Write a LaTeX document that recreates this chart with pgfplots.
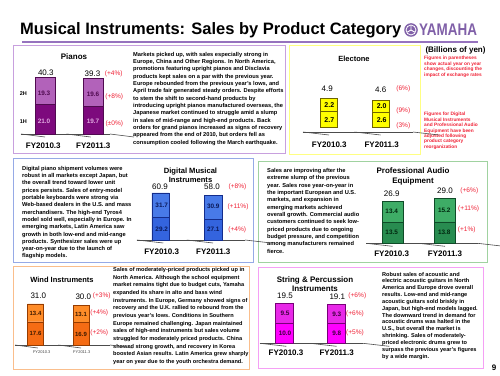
\documentclass[border=0pt]{standalone}
\usepackage{pgfplots}
\pgfplotsset{compat=1.18}
\usepackage{graphicx}
\usepackage{fontspec}
\setmainfont{Liberation Sans}
\definecolor{redc}{RGB}{240,35,55}
\definecolor{yam}{RGB}{128,96,168}
\definecolor{tline}{RGB}{150,115,190}
\definecolor{bPiano}{RGB}{200,160,222}
\definecolor{bElec}{RGB}{255,255,130}
\definecolor{bDig}{RGB}{150,170,230}
\definecolor{bPro}{RGB}{160,210,160}
\definecolor{bWind}{RGB}{250,190,140}
\definecolor{bStr}{RGB}{245,160,245}
\definecolor{pianoL}{RGB}{178,98,186}
\definecolor{pianoD}{RGB}{125,10,125}
\definecolor{pianoB}{RGB}{80,10,80}
\definecolor{elecF}{RGB}{255,255,0}
\definecolor{elecB}{RGB}{110,100,0}
\definecolor{digU}{RGB}{72,122,232}
\definecolor{digL}{RGB}{52,100,222}
\definecolor{digB}{RGB}{20,45,140}
\definecolor{proU}{RGB}{62,172,102}
\definecolor{proL}{RGB}{40,140,80}
\definecolor{proB}{RGB}{15,75,40}
\definecolor{windU}{RGB}{255,140,40}
\definecolor{windL}{RGB}{245,108,20}
\definecolor{windB}{RGB}{150,60,0}
\definecolor{strU}{RGB}{232,40,232}
\definecolor{strL}{RGB}{255,0,255}
\definecolor{strB}{RGB}{120,0,120}
\pgfplotsset{mini/.style={scale only axis, hide axis, ybar stacked, ymin=0, xmin=-0.5, xmax=1.5, clip=false, anchor=south west, enlargelimits=false}}
\tikzset{
 base/.style={draw=black!70, line width=0.6pt},
 para/.style={anchor=north west, align=left, inner sep=0pt, font=\fontsize{5.7}{7.33}\selectfont\bfseries},
 tot/.style={inner sep=0pt, font=\fontsize{8}{9}\selectfont},
 seg/.style={inner sep=0pt, font=\fontsize{6.4}{7}\selectfont\bfseries},
 pct/.style={inner sep=0pt, text=redc, font=\fontsize{6.6}{7}\selectfont},
 fy/.style={inner sep=0pt, font=\fontsize{8}{9}\selectfont\bfseries},
 ttl/.style={inner sep=0pt, align=center, font=\fontsize{8}{9.5}\selectfont\bfseries},
}
\begin{document}
\begin{tikzpicture}[x=1pt,y=1pt]
\fill[white] (0,0) rectangle (500,375);
\path[use as bounding box] (0,0) rectangle (500,375);
% title
\node[anchor=base west, inner sep=0pt, font=\fontsize{16.5}{18}\selectfont\bfseries] at (20,340) {Musical Instruments: Sales by Product Category};
\fill[yam] (411,345) circle (6.8);
\fill[white] (411,345) circle (5.4);
\fill[yam] (411,345) circle (4.4);
\draw[white, line width=0.9pt] (411,345) -- ++(90:4.2) (411,345) -- ++(210:4.2) (411,345) -- ++(330:4.2);
\node[anchor=base west, inner sep=0pt, text=yam, font=\fontsize{16.8}{18}\selectfont\bfseries] at (419,339.3) {\scalebox{0.8}[1]{YAMAHA}};
\draw[tline, line width=2pt] (22,333.3) -- (478,333.3);
% panels
\draw[bPiano, line width=1pt] (13,329) rectangle (285,221);
\draw[bElec, line width=1pt] (289,329) rectangle (420,220);
\draw[bDig, line width=1pt] (13,216) rectangle (253,113);
\draw[bPro, line width=1pt] (258,213) rectangle (487,113);
\draw[bWind, line width=1pt] (13,109) rectangle (249,6);
\draw[bStr, line width=1pt] (258,108) rectangle (483,7);
% notes
\node[inner sep=0pt, font=\fontsize{8}{9}\selectfont\bfseries] at (455.5,325) {(Billions of yen)};
\node[anchor=north west, align=left, inner sep=0pt, text=redc, font=\fontsize{4.8}{5.5}\selectfont\bfseries] at (424,318.8) {Figures in parentheses\\show actual year on year\\changes, discounting the\\impact of exchange rates};
\node[anchor=north west, align=left, inner sep=0pt, text=redc, font=\fontsize{4.8}{5.4}\selectfont\bfseries] at (424,262.8) {Figures for Digital\\Musical Instruments\\and Professional Audio\\Equipment have been\\adjusted following\\product category\\reorganization};
\node[inner sep=0pt, font=\fontsize{8}{9}\selectfont\bfseries] at (494,7.5) {9};
% paragraphs
\node[para] at (133,323.1) {Markets picked up, with sales especially strong in\\
Europe, China and Other Regions. In North America,\\
promotions featuring upright pianos and Disclavia\\
products kept sales on a par with the previous year.\\
Europe rebounded from the previous year's lows, and\\
April trade fair generated steady orders. Despite efforts\\
to stem the shift to second-hand products by\\
introducing upright pianos manufactured overseas, the\\
Japanese market continued to struggle amid a slump\\
in sales of mid-range and high-end products. Back\\
orders for grand pianos increased as signs of recovery\\
appeared from the end of 2010, but orders fell as\\
consumption cooled following the March earthquake.};
\node[para] at (22,209.3) {Digital piano shipment volumes were\\
robust in all markets except Japan, but\\
the overall trend toward lower unit\\
prices persists. Sales of entry-model\\
portable keyboards were strong via\\
Web-based dealers in the U.S. and mass\\
merchandisers. The high-end Tyros4\\
model sold well, especially in Europe. In\\
emerging markets, Latin America saw\\
growth in both low-end and mid-range\\
products. Synthesizer sales were up\\
year-on-year due to the launch of\\
flagship models.};
\node[para] at (267,206.9) {Sales are improving after the\\
extreme slump of the previous\\
year. Sales rose year-on-year in\\
the important European and U.S.\\
markets, and expansion in\\
emerging markets achieved\\
overall growth. Commercial audio\\
customers continued to seek low-\\
priced products due to ongoing\\
budget pressure, and competition\\
among manufacturers remained\\
fierce.};
\node[para, font=\fontsize{5.6}{7.69}\selectfont\bfseries] at (113,107.9) {Sales of moderately-priced products picked up in\\
North America. Although the school equipment\\
market remains tight due to budget cuts, Yamaha\\
expanded its share in alto and bass wind\\
instruments. In Europe, Germany showed signs of\\
recovery and the U.K. rallied to rebound from the\\
previous year's lows. Conditions in Southern\\
Europe remained challenging. Japan maintained\\
sales of high-end instruments but sales volume\\
struggled for moderately priced products. China\\
showed strong growth, and recovery in Korea\\
boosted Asian results. Latin America grew sharply\\
year on year due to the youth orchestra demand.};
\node[para, font=\fontsize{5.6}{6.83}\selectfont\bfseries] at (382,103.2) {Robust sales of acoustic and\\
electric acoustic guitars in North\\
America and Europe drove overall\\
results. Low-end and mid-range\\
acoustic guitars sold briskly in\\
Japan, but high-end models lagged.\\
The downward trend in demand for\\
acoustic drums was halted in the\\
U.S., but overall the market is\\
shrinking. Sales of moderately-\\
priced electronic drums grew to\\
surpass the previous year's figures\\
by a wide margin.};
% ---------------- Pianos
\begin{axis}[mini, at={(21pt,241pt)}, width=96pt, height=59.39pt, ymax=42, bar width=20pt]
\addplot[fill=pianoD, draw=pianoB] coordinates {(0,21.0) (1,19.7)};
\addplot[fill=pianoL, draw=pianoB] coordinates {(0,19.3) (1,19.6)};
\draw[base] (-0.5,0) -- (1.354,0);
\draw[base] (-0.5,0) -- ++(0,-3pt);
\draw[base] (0.45,0) -- ++(0,-3pt);
\draw[base] (1.354,0) -- ++(0,-3pt);
\end{axis}
\node[ttl] at (74,318) {Pianos};
\node[tot] at (45.8,302.7) {40.3};
\node[tot] at (92.5,301.5) {39.3};
\node[pct] at (113.8,301.5) {(+4\%)};
\node[inner sep=0pt, font=\fontsize{5.5}{6}\selectfont\bfseries] at (23.3,281) {2H};
\node[inner sep=0pt, font=\fontsize{5.5}{6}\selectfont\bfseries] at (23.3,253.3) {1H};
\node[seg, text=pianoB] at (44,282) {19.3};
\node[seg, text={rgb,255:red,225;green,170;blue,225}] at (44,254) {21.0};
\node[seg, text=pianoB] at (93,281) {19.6};
\node[seg, text={rgb,255:red,225;green,170;blue,225}] at (93,253.5) {19.7};
\node[pct] at (114.3,278.3) {(+8\%)};
\node[pct] at (114.3,251) {(±0\%)};
\node[fy] at (43.3,229.3) {FY2010.3};
\node[fy] at (93.3,229.3) {FY2011.3};
% ---------------- Electone
\begin{axis}[mini, at={(302.5pt,248pt)}, width=104pt, height=30.16pt, ymax=5.2, bar width=17pt]
\addplot[fill=elecF, draw=elecB] coordinates {(0,2.7) (1,2.6)};
\addplot[fill=elecF, draw=elecB] coordinates {(0,2.2) (1,2.0)};
\draw[base] (-0.49,-0.862) -- (1.625,-0.862);
\draw[base] (-0.49,-0.862) -- ++(0,-3pt);
\draw[base] (0.5,-0.862) -- ++(0,-3pt);
\draw[base] (1.625,-0.862) -- ++(0,-3pt);
\end{axis}
\node[ttl, font=\fontsize{7.5}{9}\selectfont\bfseries] at (354,316) {Electone};
\node[tot] at (327.3,286.3) {4.9};
\node[tot] at (380.7,285.3) {4.6};
\node[pct] at (403.3,286.3) {(6\%)};
\node[seg, font=\fontsize{7}{8}\selectfont\bfseries] at (329.3,269.5) {2.2};
\node[seg, font=\fontsize{7}{8}\selectfont\bfseries] at (329.3,255) {2.7};
\node[seg, font=\fontsize{7}{8}\selectfont\bfseries] at (381.7,268.7) {2.0};
\node[seg, font=\fontsize{7}{8}\selectfont\bfseries] at (381.7,255) {2.6};
\node[pct] at (403.3,264) {(9\%)};
\node[pct] at (403.3,249.5) {(3\%)};
\node[fy] at (329.3,230) {FY2010.3};
\node[fy] at (381.7,230) {FY2011.3};
% ---------------- Digital
\begin{axis}[mini, at={(134.25pt,135pt)}, width=105pt, height=49.41pt, ymax=64, bar width=17.5pt]
\addplot[fill=digL, draw=digB] coordinates {(0,29.2) (1,27.1)};
\addplot[fill=digU, draw=digB] coordinates {(0,31.7) (1,30.9)};
\draw[base] (-0.448,0) -- (1.61,0);
\draw[base] (-0.448,0) -- ++(0,-3pt);
\draw[base] (0.5,0) -- ++(0,-3pt);
\draw[base] (1.61,0) -- ++(0,-3pt);
\end{axis}
\node[ttl, font=\fontsize{7.6}{8.6}\selectfont\bfseries] at (190.5,200) {Digital Musical\\Instruments};
\node[tot] at (160,188) {60.9};
\node[tot] at (212,188) {58.0};
\node[pct] at (237.5,188) {(+8\%)};
\node[seg, text={rgb,255:red,10;green,25;blue,90}] at (161.7,169.5) {31.7};
\node[seg, text={rgb,255:red,10;green,25;blue,90}] at (161.7,146) {29.2};
\node[seg, text={rgb,255:red,10;green,25;blue,90}] at (213.3,168.5) {30.9};
\node[seg, text={rgb,255:red,10;green,25;blue,90}] at (213.3,145.5) {27.1};
\node[pct] at (238,168.3) {(+11\%)};
\node[pct] at (237.3,145.3) {(+4\%)};
\node[fy] at (161.7,123) {FY2010.3};
\node[fy] at (213.3,123) {FY2011.3};
% ---------------- Pro Audio
\begin{axis}[mini, at={(366.25pt,131.7pt)}, width=105pt, height=48.36pt, ymax=31, bar width=21pt]
\addplot[fill=proL, draw=proB] coordinates {(0,13.5) (1,13.8)};
\addplot[fill=proU, draw=proB] coordinates {(0,13.4) (1,15.2)};
\draw[base] (-0.5,0) -- (1.62,0);
\draw[base] (-0.5,0) -- ++(0,-3pt);
\draw[base] (0.5,0) -- ++(0,-3pt);
\draw[base] (1.62,0) -- ++(0,-3pt);
\end{axis}
\node[ttl] at (413,198.5) {Professional Audio\\Equipment};
\node[tot] at (391.7,181.5) {26.9};
\node[tot] at (445,184) {29.0};
\node[pct] at (469.3,184.3) {(+6\%)};
\node[seg, text={rgb,255:red,0;green,40;blue,15}] at (391.7,163.5) {13.4};
\node[seg, text={rgb,255:red,0;green,40;blue,15}] at (391.7,142.3) {13.5};
\node[seg, text={rgb,255:red,0;green,40;blue,15}] at (444.3,165) {15.2};
\node[seg, text={rgb,255:red,0;green,40;blue,15}] at (444.3,142.5) {13.8};
\node[pct] at (468.7,166) {(+11\%)};
\node[pct] at (466.7,145.7) {(+1\%)};
\node[fy] at (391.7,121.7) {FY2010.3};
\node[fy] at (445,121.7) {FY2011.3};
% ---------------- Wind
\begin{axis}[mini, at={(12.75pt,30pt)}, width=91pt, height=43.66pt, ymax=33, bar width=16pt]
\addplot[fill=windL, draw=windB] coordinates {(0,17.6) (1,16.9)};
\addplot[fill=windU, draw=windB] coordinates {(0,13.4) (1,13.1)};
\draw[base] (-0.45,0) -- (1.637,0);
\draw[base] (-0.45,0) -- ++(0,-3pt);
\draw[base] (0.5,0) -- ++(0,-3pt);
\draw[base] (1.637,0) -- ++(0,-3pt);
\end{axis}
\node[ttl, font=\fontsize{7.5}{9}\selectfont\bfseries] at (62,95.5) {Wind Instruments};
\node[tot] at (38.3,79) {31.0};
\node[tot] at (83.3,78.3) {30.0};
\node[pct] at (101.7,79) {(+3\%)};
\node[seg, font=\fontsize{6}{7}\selectfont\bfseries, text={rgb,255:red,60;green,25;blue,0}] at (35.5,61.5) {13.4};
\node[seg, font=\fontsize{6}{7}\selectfont\bfseries, text={rgb,255:red,60;green,25;blue,0}] at (35.5,41.6) {17.6};
\node[seg, font=\fontsize{6}{7}\selectfont\bfseries, text={rgb,255:red,60;green,25;blue,0}] at (81,60.5) {13.1};
\node[seg, font=\fontsize{6}{7}\selectfont\bfseries, text={rgb,255:red,60;green,25;blue,0}] at (81,41) {16.9};
\node[pct] at (99.3,62.3) {(+4\%)};
\node[pct] at (99.3,42.3) {(+2\%)};
\node[inner sep=0pt, text=black!75, font=\fontsize{4}{5}\selectfont] at (41.7,22.7) {FY2010.3};
\node[inner sep=0pt, text=black!75, font=\fontsize{4}{5}\selectfont] at (81.7,22.7) {FY2011.3};
% ---------------- String & Percussion
\begin{axis}[mini, at={(257.75pt,31.7pt)}, width=105pt, height=43.05pt, ymax=21, bar width=18pt]
\addplot[fill=strL, draw=strB] coordinates {(0,10.0) (1,9.8)};
\addplot[fill=strU, draw=strB] coordinates {(0,9.5) (1,9.3)};
\draw[base] (-0.457,0) -- (1.505,0);
\draw[base] (-0.457,0) -- ++(0,-3pt);
\draw[base] (0.5,0) -- ++(0,-3pt);
\draw[base] (1.505,0) -- ++(0,-3pt);
\end{axis}
\node[ttl] at (315,91) {String \& Percussion\\Instruments};
\node[tot] at (285,79) {19.5};
\node[tot] at (337.3,78.3) {19.1};
\node[pct] at (357.3,79) {(+6\%)};
\node[seg, text={rgb,255:red,60;green,0;blue,60}] at (285,61.5) {9.5};
\node[seg, text={rgb,255:red,60;green,0;blue,60}] at (285,41.8) {10.0};
\node[seg, text={rgb,255:red,60;green,0;blue,60}] at (336.7,60.5) {9.3};
\node[seg, text={rgb,255:red,60;green,0;blue,60}] at (336.7,41.7) {9.8};
\node[pct] at (355,61) {(+6\%)};
\node[pct] at (355,42.3) {(+5\%)};
\node[fy] at (286,22.3) {FY2010.3};
\node[fy] at (336.7,22.3) {FY2011.3};
\end{tikzpicture}
\end{document}
